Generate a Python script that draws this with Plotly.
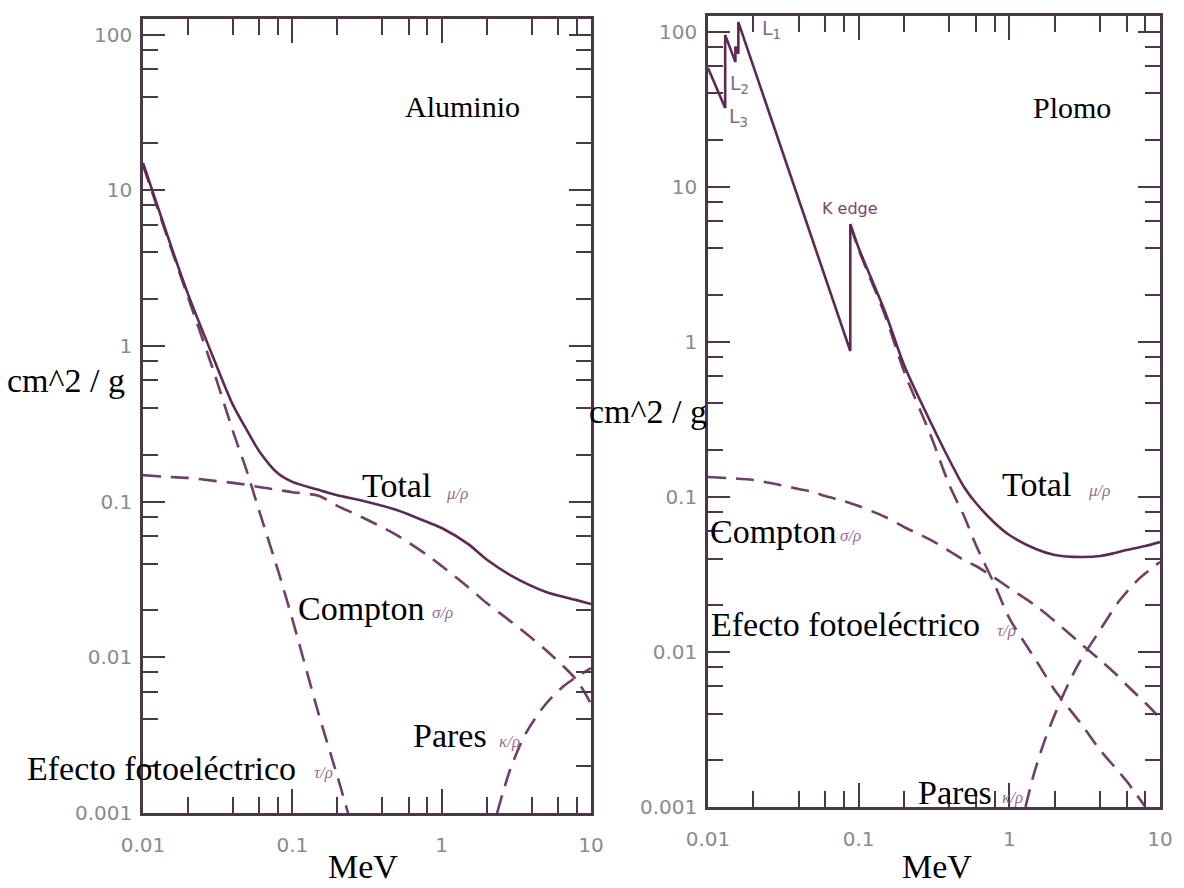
import plotly.graph_objects as go

# ---------------- Data: Aluminio ----------------
al_E = [0.01, 0.015, 0.02, 0.03, 0.04, 0.05, 0.06, 0.08, 0.1, 0.15, 0.2, 0.3, 0.5,
        0.8, 1, 1.5, 2, 3, 5, 8, 10]
al_total = [15.0, 4.72, 2.16, 0.813, 0.418, 0.284, 0.211, 0.152, 0.134, 0.119, 0.110,
            0.101, 0.0883, 0.0739, 0.0677, 0.0535, 0.0425, 0.0330, 0.0263, 0.0233, 0.0220]
al_compton = [0.148, 0.144, 0.142, 0.136, 0.132, 0.128, 0.124, 0.119, 0.115, 0.109, 0.094,
              0.0785, 0.061, 0.0454, 0.0386, 0.0283, 0.0223, 0.0166, 0.0111, 0.00715, 0.00501]
al_photo_E = [0.01, 0.015, 0.02, 0.03, 0.04, 0.05, 0.06, 0.08, 0.1, 0.15, 0.2, 0.236]
al_photo = [14.5, 4.58, 2.06, 0.670, 0.284, 0.153, 0.0871, 0.0364, 0.0176, 0.00433,
            0.00173, 0.001]
al_pair_E = [2.35, 2.87, 3.61, 4.92, 6.70, 10]
al_pair = [0.001, 0.00189, 0.00317, 0.00494, 0.00664, 0.00853]

# ---------------- Data: Plomo ----------------
# total below the K edge (with L edges)
pb_low_E = [0.01, 0.013, 0.013, 0.0152, 0.0152, 0.0159, 0.0159, 0.02, 0.03, 0.04, 0.05,
            0.06, 0.08, 0.088, 0.088]
pb_low = [58.2, 32.1, 95.0, 63.5, 80.0, 72.0, 115.0, 59.9, 18.8, 8.32, 4.33, 2.57, 1.14,
          0.871, 5.74]
# total above the K edge
pb_high_E = [0.088, 0.1, 0.15, 0.2, 0.3, 0.4, 0.5, 0.6, 0.8, 1, 1.5, 2, 3, 4, 5, 6, 8, 10]
pb_high = [5.74, 4.02, 1.55, 0.708, 0.3035, 0.1727, 0.1157, 0.0912, 0.0678, 0.0567,
           0.0461, 0.0422, 0.0409, 0.0415, 0.0434, 0.0454, 0.0482, 0.0511]
pb_photo_E = [0.088, 0.1, 0.15, 0.2, 0.3, 0.4, 0.5, 0.6, 0.8, 1, 1.5, 2, 3, 4, 5, 6, 7, 8]
pb_photo = [5.65, 3.93, 1.47, 0.644, 0.250, 0.119, 0.0752, 0.0489, 0.0270, 0.0165, 0.00887,
            0.00568, 0.00343, 0.00233, 0.00181, 0.00147, 0.00120, 0.001]
pb_compton_E = [0.01, 0.02, 0.03, 0.04, 0.05, 0.06, 0.08, 0.1, 0.15, 0.2, 0.3, 0.4, 0.5, 0.6,
                0.8, 1, 1.5, 2, 3, 4, 5, 6, 8, 10]
pb_compton = [0.1342, 0.1283, 0.1192, 0.1123, 0.1074, 0.1012, 0.0939, 0.0872, 0.0741, 0.0639,
              0.0527, 0.0447, 0.0391, 0.0358, 0.0300, 0.0258, 0.0198, 0.0158, 0.01124,
              0.00887, 0.00731, 0.00612, 0.00468, 0.00375]
pb_pair_E = [1.28, 1.45, 1.72, 2.2, 2.85, 4.0, 5.42, 7.36, 10]
pb_pair = [0.001, 0.00161, 0.00270, 0.00490, 0.00823, 0.01384, 0.0216, 0.0300, 0.0380]

# ---------------- Tick labels ----------------
x_tickvals = [0.01, 0.1, 1, 10]
x_ticktext = ["0.01", "0.1", "1", "10"]
y_tickvals = [0.001, 0.01, 0.1, 1, 10, 100]
y_ticktext = ["0.001", "0.01", "0.1", "1", "10", "100"]
minor_digits = [2, 4, 6, 8]
x_minor = [d * m for d in [0.01, 0.1, 1] for m in minor_digits]
y_minor = [d * m for d in [0.001, 0.01, 0.1, 1, 10] for m in minor_digits]

W, H = 1184, 888
FRAME = "rgb(72,56,72)"
CURVE = "rgb(92,42,82)"
DASHC = "rgb(112,62,102)"
SUBC = "rgb(150,110,150)"

fig = go.Figure()
solid = dict(color=CURVE, width=2.6)
solid_s = dict(color=CURVE, width=2.6, shape="spline", smoothing=0.8)
dashed = dict(color=DASHC, width=2.6, dash="18px,10px", shape="spline", smoothing=0.8)

fig.add_trace(go.Scatter(x=al_E, y=al_compton, mode="lines", line=dashed, xaxis="x", yaxis="y"))
fig.add_trace(go.Scatter(x=al_photo_E, y=al_photo, mode="lines", line=dashed, xaxis="x", yaxis="y"))
fig.add_trace(go.Scatter(x=al_pair_E, y=al_pair, mode="lines", line=dashed, xaxis="x", yaxis="y"))
fig.add_trace(go.Scatter(x=al_E, y=al_total, mode="lines", line=solid_s, xaxis="x", yaxis="y"))

fig.add_trace(go.Scatter(x=pb_compton_E, y=pb_compton, mode="lines", line=dashed, xaxis="x2", yaxis="y2"))
fig.add_trace(go.Scatter(x=pb_photo_E, y=pb_photo, mode="lines", line=dashed, xaxis="x2", yaxis="y2"))
fig.add_trace(go.Scatter(x=pb_pair_E, y=pb_pair, mode="lines", line=dashed, xaxis="x2", yaxis="y2"))
fig.add_trace(go.Scatter(x=pb_low_E, y=pb_low, mode="lines", line=solid, xaxis="x2", yaxis="y2"))
fig.add_trace(go.Scatter(x=pb_high_E, y=pb_high, mode="lines", line=solid_s, xaxis="x2", yaxis="y2"))

tickfont = dict(family="DejaVu Sans", size=20, color="#8a8a8a")


def xaxis(domain, anchor):
    return dict(type="log", range=[-2, 1], domain=domain, anchor=anchor, automargin=False,
                showline=True, linecolor=FRAME, linewidth=2.6, mirror="allticks",
                ticks="inside", ticklen=24, tickwidth=1.8, tickcolor=FRAME,
                tickmode="array", tickvals=x_tickvals, ticktext=x_ticktext,
                tickfont=tickfont, ticklabelstandoff=12,
                showgrid=False, zeroline=False,
                minor=dict(tickmode="array", tickvals=x_minor, ticks="inside",
                           ticklen=16, tickwidth=1.8, tickcolor=FRAME, showgrid=False))


def yaxis(domain, anchor):
    return dict(type="log", range=[-3, 2.1], domain=domain, anchor=anchor, automargin=False,
                showline=True, linecolor=FRAME, linewidth=2.6, mirror="allticks",
                ticks="inside", ticklen=22, tickwidth=1.8, tickcolor=FRAME,
                tickmode="array", tickvals=y_tickvals, ticktext=y_ticktext,
                tickfont=tickfont, ticklabelstandoff=4,
                showgrid=False, zeroline=False,
                minor=dict(tickmode="array", tickvals=y_minor, ticks="inside",
                           ticklen=15, tickwidth=1.8, tickcolor=FRAME, showgrid=False))


fig.update_layout(
    width=W, height=H, margin=dict(l=0, r=0, t=0, b=0, autoexpand=False),
    paper_bgcolor="white", plot_bgcolor="white", showlegend=False,
    xaxis=xaxis([143 / W, 591 / W], "y"),
    yaxis=yaxis([(H - 813) / H, (H - 19) / H], "x"),
    xaxis2=xaxis([708 / W, 1160 / W], "y2"),
    yaxis2=yaxis([(H - 807) / H, (H - 16) / H], "x2"),
)

serif = dict(family="Liberation Serif", size=34, color="black")
title_font = dict(family="Liberation Serif", size=30, color="black")
small = dict(family="Liberation Serif", size=17, color=SUBC)


def label(text, px, py, font, xanchor="center"):
    fig.add_annotation(text=text, x=px / W, y=1 - py / H, xref="paper", yref="paper",
                       showarrow=False, font=font, xanchor=xanchor, yanchor="middle")


# Left panel texts
label("Aluminio", 462, 106, title_font)
label("Total", 396, 486, serif)
label("<i>μ/ρ</i>", 444, 493, small, "left")
label("Compton", 361, 608, serif)
label("<i>σ/ρ</i>", 430, 612, small, "left")
label("Efecto fotoeléctrico", 161, 768, serif)
label("<i>τ/ρ</i>", 312, 772, small, "left")
label("Pares", 450, 735, serif)
label("<i>κ/ρ</i>", 497, 741, small, "left")
label("cm^2 / g", 66, 380, serif)
label("MeV", 363, 866, serif)

# Right panel texts
label("Plomo", 1072, 108, title_font)
label("Total", 1036, 484, serif)
label("<i>μ/ρ</i>", 1086, 490, small, "left")
label("Compton", 773, 531, serif)
label("<i>σ/ρ</i>", 838, 535, small, "left")
label("Efecto fotoeléctrico", 845, 624, serif)
label("<i>τ/ρ</i>", 995, 630, small, "left")
label("Pares", 955, 792, serif)
label("<i>κ/ρ</i>", 1000, 797, small, "left")
label("cm^2 / g", 648, 412, serif)
label("MeV", 937, 866, serif)

label("K edge", 850, 208, dict(family="DejaVu Sans", size=16, color="rgb(120,70,110)"))
lfont = dict(family="DejaVu Sans", size=19, color="rgb(130,105,130)")
label("L<sub>1</sub>", 760, 30, lfont, "left")
label("L<sub>2</sub>", 728, 84, lfont, "left")
label("L<sub>3</sub>", 727, 118, lfont, "left")

fig.write_html("out.html", config={"displayModeBar": False},
               post_script="document.body.style.margin='0';document.body.style.overflow='hidden';")
